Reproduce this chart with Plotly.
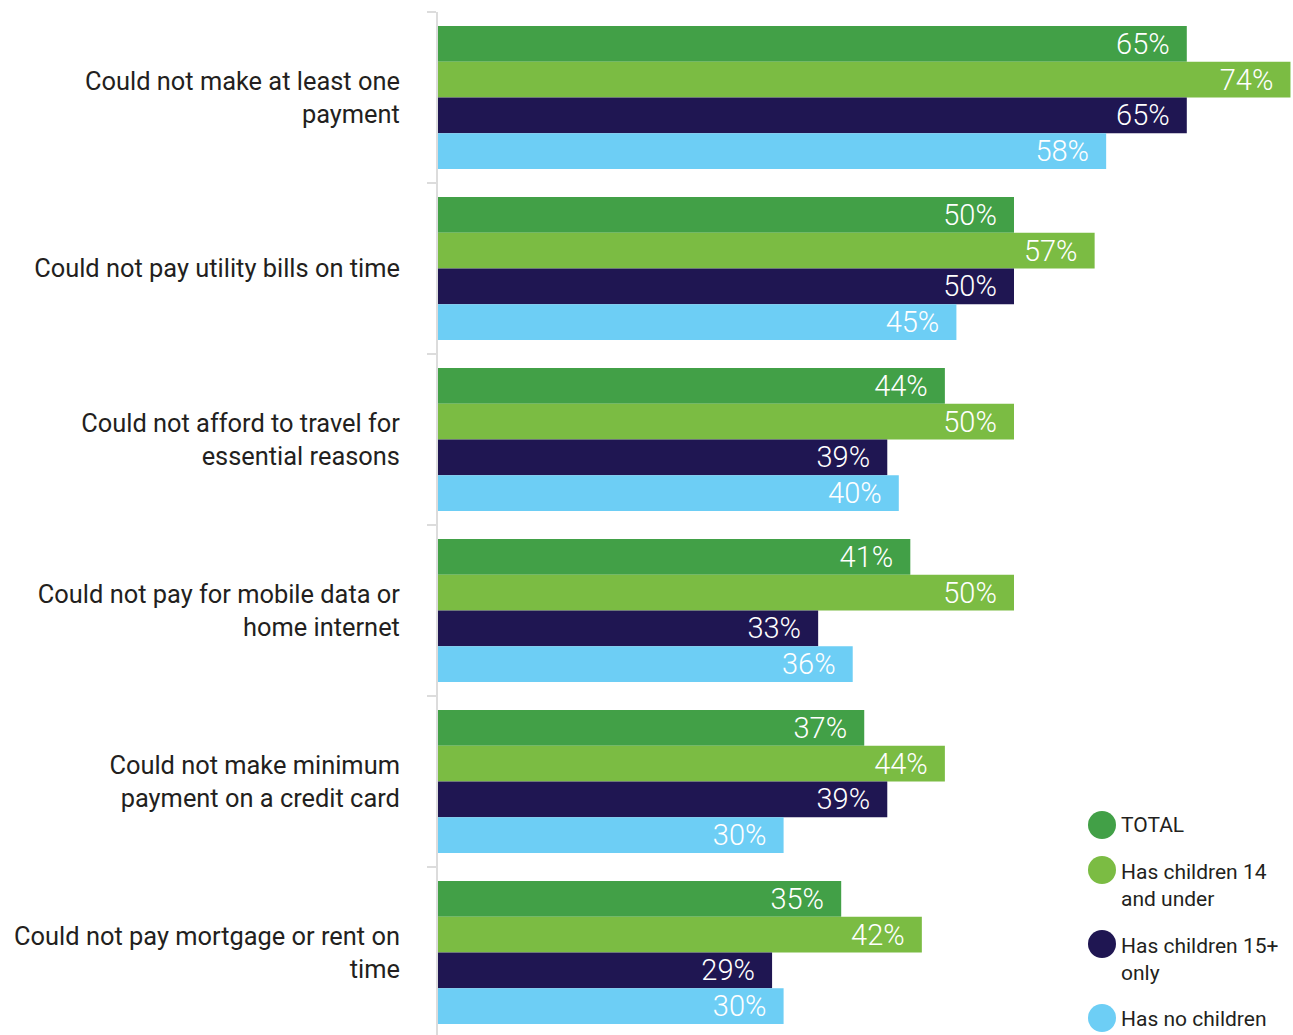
import plotly.graph_objects as go

# Survey categories (top to bottom) and share of respondents per household group
categories = [
    "Could not make at least one<br>payment",
    "Could not pay utility bills on time",
    "Could not afford to travel for<br>essential reasons",
    "Could not pay for mobile data or<br>home internet",
    "Could not make minimum<br>payment on a credit card",
    "Could not pay mortgage or rent on<br>time",
]
series_names = ["TOTAL", "Has children 14<br>and under", "Has children 15+<br>only", "Has no children"]
total = [65, 50, 44, 41, 37, 35]
children_14_under = [74, 57, 50, 50, 44, 42]
children_15_plus = [65, 50, 39, 33, 39, 29]
no_children = [58, 45, 40, 36, 30, 30]

series_values = [total, children_14_under, children_15_plus, no_children]
colors = ["#42a047", "#7bbc43", "#1f1652", "#6dcef5"]

FONT = "Roboto"
W, H = 1293, 1035
M_L, M_T = 438, 12
VALUE_SIZE = 29

fig = go.Figure()
for name, vals, col in zip(series_names, series_values, colors):
    fig.add_trace(go.Bar(
        y=categories,
        x=vals,
        orientation="h",
        name=name.replace("<br>", " "),
        marker=dict(color=col, line=dict(width=0)),
        text=[f"{v}%\u00a0\u00a0" for v in vals],
        textposition="inside",
        insidetextanchor="end",
        textangle=0,
        textfont=dict(family=FONT, size=VALUE_SIZE, color="white", weight=300),
        showlegend=False,
        hoverinfo="skip",
    ))

# Custom legend: large round swatches with wrapped labels
legend_circle_y = [825, 870, 944, 1018]
legend_text_y = [825, 885, 959, 1019]
plot_h = H - M_T
plot_w = W - M_L
shapes, annotations = [], []
for name, col, cy, ty in zip(series_names, colors, legend_circle_y, legend_text_y):
    shapes.append(dict(
        type="circle", xref="paper", yref="paper",
        xsizemode="pixel", ysizemode="pixel",
        xanchor=(1102 - M_L) / plot_w, yanchor=(H - cy) / plot_h,
        x0=-14, x1=14, y0=-14, y1=14,
        fillcolor=col, line=dict(width=0),
    ))
    annotations.append(dict(
        text=name, xref="paper", yref="paper",
        x=(1119 - M_L) / plot_w, y=(H - ty) / plot_h,
        xanchor="left", yanchor="middle", align="left", showarrow=False,
        font=dict(family=FONT, size=21, color="#231f20"),
    ))

fig.update_layout(
    width=W, height=H,
    margin=dict(l=M_L, r=0, t=M_T, b=0, pad=0),
    paper_bgcolor="white", plot_bgcolor="white",
    barmode="group", bargap=0.164, bargroupgap=0,
    uniformtext=dict(minsize=VALUE_SIZE, mode="show"),
    xaxis=dict(range=[0, 855 / 11.52], visible=False, fixedrange=True),
    yaxis=dict(
        type="category",
        range=[5.482, -0.5],
        showline=True, linecolor="#dcdcdc", linewidth=2,
        ticks="outside", tickson="boundaries", ticklen=9,
        tickcolor="#dcdcdc", tickwidth=2,
        ticklabelstandoff=31,
        showgrid=False, zeroline=False,
        tickfont=dict(family=FONT, size=25.4, color="#231f20"),
    ),
    shapes=shapes,
    annotations=annotations,
    showlegend=False,
)

fig.write_html("out.html")
